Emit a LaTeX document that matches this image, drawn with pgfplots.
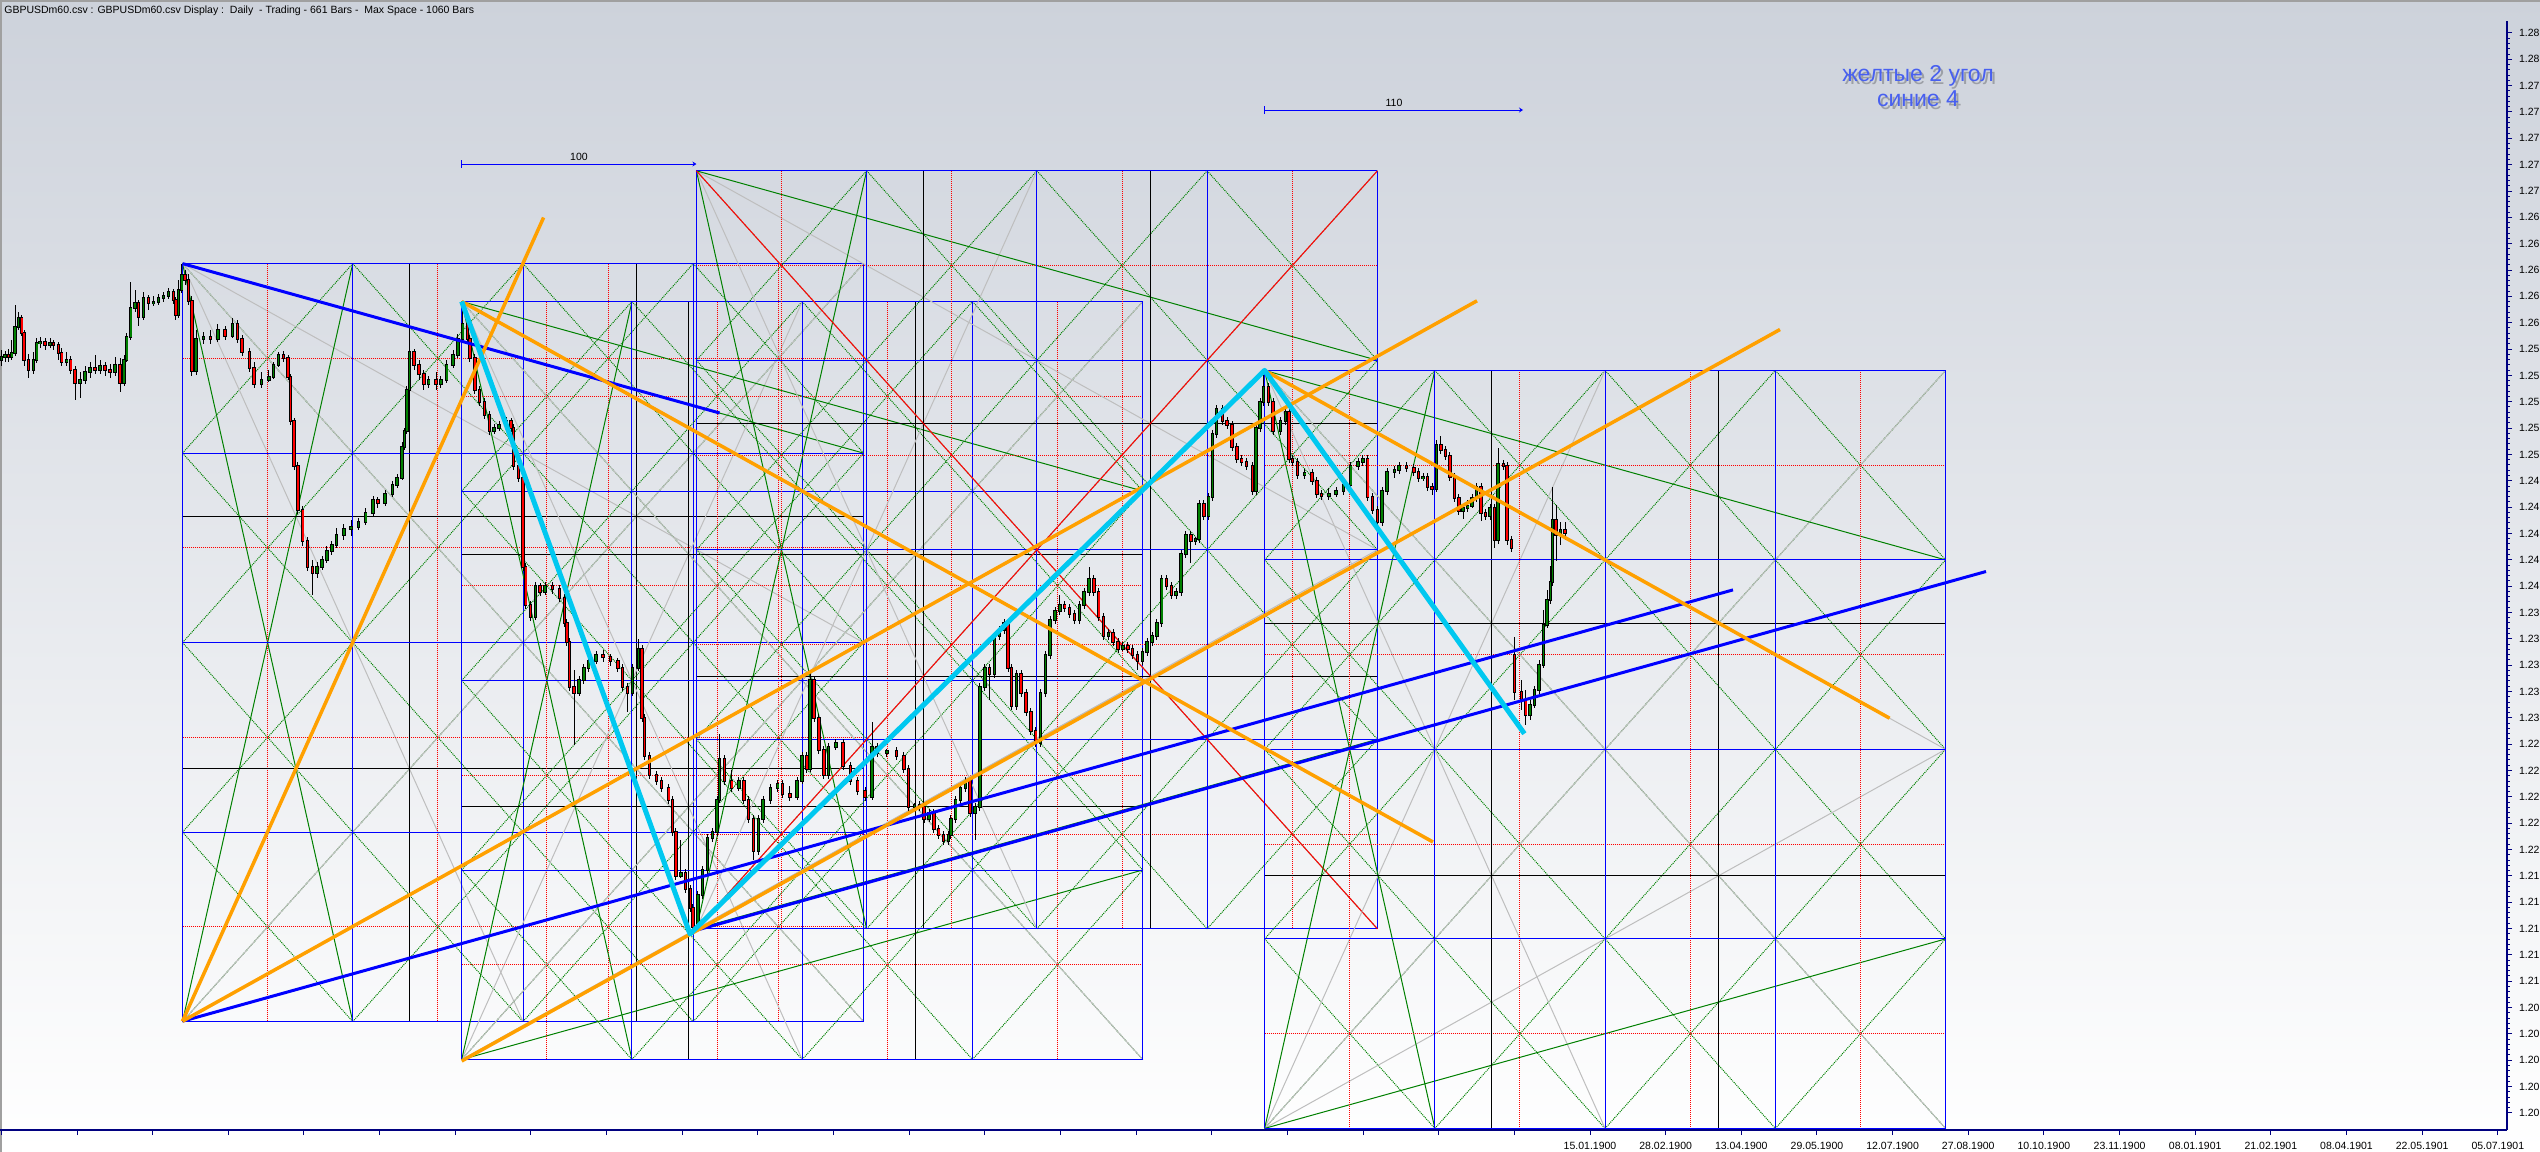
\documentclass[border=0pt]{standalone}
\usepackage{fontspec}
\setmainfont{Liberation Sans}
\usepackage{pgfplots}
\pgfplotsset{compat=1.18}
\usepackage{pgfplotstable}
\usetikzlibrary{arrows.meta}

\definecolor{gblue}{RGB}{0,0,255}
\definecolor{ggreen}{RGB}{0,128,0}
\definecolor{gred}{RGB}{255,0,0}
\definecolor{ggrey}{RGB}{190,190,190}
\definecolor{gorange}{RGB}{255,160,0}
\definecolor{gcyan}{RGB}{0,200,240}
\definecolor{axnavy}{RGB}{0,0,128}
\definecolor{bgtop}{RGB}{205,210,219}
\definecolor{txtblue}{RGB}{72,96,240}
\definecolor{frameg}{RGB}{160,160,160}

\newcommand\tickfont{\fontsize{5.25pt}{6pt}\selectfont}
\newcommand\rufont{\fontsize{11.5pt}{13pt}\selectfont}

% candles, pixel units (x = position, y counted downwards): open high low close
\pgfplotstableread{
x o h l c
1.7 360 350 366 357
5.0 357 351 362 355
8.3 355 349 362 357
11.7 357 340 360 353
15.0 353 305 356 327
18.3 327 312 330 318
21.7 318 315 336 333
24.0 333 330 366 360
28.3 360 354 378 370
33.3 370 352 374 360
36.7 360 338 363 343
40.0 343 337 348 342
45.0 342 338 350 345
50.0 345 338 348 343
53.3 343 340 350 345
58.3 345 342 360 353
61.7 353 348 366 362
66.7 362 352 366 360
70.7 360 356 374 370
75.0 370 366 400 383
80.0 383 372 398 380
85.0 380 366 384 372
90.0 372 362 378 368
95.0 368 355 374 370
100.0 370 360 374 366
105.0 366 362 376 370
110.0 370 364 378 372
115.0 372 357 376 365
120.0 365 358 392 383
124.0 383 355 386 360
126.7 360 333 362 337
130.7 337 282 340 308
135.0 308 290 312 303
138.3 303 300 326 317
143.3 317 292 320 298
148.3 298 295 310 303
153.3 303 296 306 302
158.3 302 294 305 298
163.3 298 292 302 296
168.3 296 288 299 292
173.3 292 289 304 300
175.7 300 297 320 315
178.3 315 280 318 290
181.7 290 264 293 275
185.0 275 270 285 280
188.4 280 274 305 301
191.8 301 296 376 371
196.0 371 330 375 339
203.3 339 332 344 337
210.6 337 330 344 339
217.9 339 324 342 330
225.1 330 326 340 336
232.4 336 318 338 324
237.3 324 320 343 339
242.1 339 335 356 352
249.4 352 348 372 368
254.2 368 362 388 384
261.5 384 372 388 380
268.8 380 370 382 377
273.6 377 362 379 365
278.5 365 352 367 355
283.3 355 351 362 358
288.1 358 355 380 377
290.6 377 374 425 421
294.0 421 418 470 466
297.8 466 462 514 510
302.7 510 506 546 541
307.5 541 537 571 567
312.4 567 560 595 573
317.2 573 562 578 567
322.1 567 556 570 560
326.9 560 546 563 551
331.8 551 541 555 545
336.6 545 528 548 535
343.9 535 524 540 529
351.2 529 520 536 527
358.4 527 518 530 522
365.7 522 508 525 513
373.0 513 496 516 500
377.8 500 497 508 503
385.1 503 490 506 494
392.4 494 481 497 485
397.2 485 474 488 478
402.1 478 442 480 447
404.5 447 428 450 431
406.9 431 386 434 390
409.3 390 348 393 352
414.2 352 349 370 365
419.0 365 360 380 374
423.9 374 370 390 384
428.7 384 376 388 380
436.0 380 372 390 384
440.8 384 376 388 380
446.7 380 360 383 365
453.0 365 350 368 355
457.8 355 334 358 339
462.7 339 302 342 324
467.5 324 318 344 339
469.9 339 335 362 358
474.8 358 354 394 390
479.6 390 386 406 402
484.5 402 398 419 415
489.3 415 411 435 431
494.2 431 424 434 428
499.0 428 421 431 425
506.3 425 417 428 421
511.1 421 418 432 428
513.5 428 424 470 466
518.4 466 462 482 478
523.2 478 474 571 567
525.7 567 563 609 605
530.5 605 601 621 617
535.4 617 582 620 586
540.2 586 583 596 592
545.1 592 582 595 586
552.3 586 582 594 589
559.6 589 585 602 598
564.4 598 594 627 623
566.9 623 619 646 642
569.3 642 638 691 687
574.1 687 670 745 693
579.0 693 676 696 680
583.8 680 664 684 668
588.7 668 657 672 661
596.0 661 651 664 655
603.2 655 650 662 657
610.5 657 654 666 661
617.8 661 658 672 668
622.6 668 664 691 687
627.5 687 683 712 693
632.3 693 664 696 668
638.6 668 639 671 649
642.0 649 645 722 718
644.4 718 714 760 756
649.3 756 752 779 775
656.5 775 771 785 781
661.4 781 777 792 788
668.7 788 784 804 800
672.5 800 796 836 832
675.9 832 828 880 876
680.8 876 840 878 873
685.6 873 869 893 889
690.5 889 885 912 908
692.9 908 904 933 927
697.8 927 891 931 895
702.6 895 866 899 870
707.4 870 834 874 838
712.3 838 828 842 832
717.1 832 796 836 800
719.6 800 734 803 759
724.4 759 755 785 781
731.7 781 770 792 788
738.9 788 777 791 781
743.8 781 777 804 800
748.6 800 796 823 819
753.5 819 815 860 851
758.3 851 815 855 819
763.2 819 796 823 800
770.5 800 784 804 788
777.7 788 780 792 784
782.6 784 780 798 794
789.8 794 786 801 797
797.1 797 777 800 781
802.0 781 752 784 756
806.8 756 752 773 769
810.2 769 671 772 680
814.1 680 676 722 718
818.9 718 714 754 750
823.8 750 746 779 775
828.6 775 743 779 747
835.9 747 739 750 743
843.2 743 739 770 766
850.4 766 762 785 781
857.7 781 777 795 791
865.0 791 787 801 797
872.2 797 722 800 747
877.1 747 743 757 753
886.8 753 749 757 751
896.5 751 747 760 756
903.8 756 752 773 769
908.6 769 765 811 807
914.5 807 803 811 805
919.3 805 801 811 807
924.2 807 803 823 819
929.0 819 809 822 813
933.9 813 809 833 829
938.7 829 825 839 835
943.6 835 831 845 841
948.4 841 831 845 835
950.8 835 815 839 819
955.7 819 796 823 800
960.5 800 784 804 788
965.4 788 777 792 781
970.2 781 777 817 813
975.1 813 803 840 807
979.9 807 683 811 687
984.8 687 664 691 668
989.6 668 664 700 674
994.5 674 632 678 636
999.3 636 626 640 630
1004.2 630 619 634 623
1008.0 623 619 672 668
1011.4 668 664 710 706
1016.3 706 670 710 674
1021.1 674 670 697 693
1026.0 693 689 716 712
1030.8 712 708 735 731
1035.7 731 727 747 743
1040.5 743 689 747 693
1045.4 693 651 697 655
1050.2 655 616 659 620
1055.1 620 607 624 611
1059.9 611 595 615 605
1064.7 605 601 612 608
1069.6 608 604 618 614
1074.4 614 610 624 620
1079.3 620 601 624 605
1084.1 605 588 609 592
1089.0 592 567 596 579
1093.8 579 575 596 592
1098.7 592 588 621 617
1103.5 617 613 640 636
1108.4 636 629 640 633
1113.2 633 629 646 642
1118.1 642 638 653 649
1122.9 649 642 651 646
1127.8 646 642 653 649
1132.6 649 645 659 655
1137.5 655 651 670 661
1142.3 661 648 665 652
1147.2 652 638 656 642
1152.0 642 632 646 636
1156.8 636 619 640 623
1161.7 623 575 627 579
1166.5 579 575 590 586
1171.4 586 582 599 595
1176.2 595 588 599 592
1181.1 592 550 596 554
1185.9 554 531 558 535
1190.8 535 531 563 541
1195.6 541 537 545 539
1199.0 539 500 543 504
1203.9 504 500 520 516
1208.7 516 493 520 497
1212.6 497 430 501 434
1216.5 434 405 438 409
1222.3 409 405 425 421
1227.1 421 417 429 425
1232.0 425 421 451 447
1236.8 447 443 463 459
1241.7 459 455 466 462
1246.5 462 458 470 466
1252.3 466 462 495 491
1256.2 491 424 495 428
1260.1 428 398 432 402
1263.5 402 370 406 387
1268.3 387 383 406 402
1273.2 402 398 435 431
1280.5 431 417 435 421
1285.3 421 408 425 412
1289.2 412 408 463 459
1292.6 459 455 466 462
1297.4 462 458 479 475
1304.7 475 469 479 473
1312.0 473 469 485 481
1316.8 481 477 498 494
1321.6 494 490 500 496
1328.9 496 488 500 494
1336.2 494 487 497 491
1343.5 491 481 495 485
1350.7 485 462 489 466
1358.0 466 458 470 462
1362.9 462 455 466 459
1367.7 459 455 501 497
1372.5 497 493 514 510
1377.4 510 506 526 522
1382.2 522 487 526 491
1387.1 491 468 495 472
1394.4 472 466 478 470
1399.2 470 462 474 466
1406.5 466 462 472 468
1413.8 468 464 476 472
1418.6 472 468 482 478
1423.0 478 473 481 477
1427.5 477 473 491 487
1432.0 487 483 495 489
1436.4 489 440 492 445
1440.9 445 436 454 450
1445.4 450 446 460 456
1449.8 456 452 481 477
1454.3 477 473 502 498
1458.8 498 494 515 511
1463.2 511 504 519 508
1467.7 508 500 512 506
1472.1 506 494 508 498
1476.6 498 483 502 487
1481.1 487 483 521 513
1485.5 513 509 520 516
1490.0 516 504 520 508
1494.5 508 504 548 540
1498.0 540 448 544 464
1503.4 464 460 470 466
1507.0 466 462 545 540
1511.4 540 536 552 548
1514.5 655 637 700 692
1521.3 692 680 710 700
1525.7 700 690 725 715
1530.2 715 700 720 705
1534.6 705 686 708 690
1539.1 690 660 694 665
1543.6 665 610 668 625
1547.1 625 590 628 600
1550.3 600 566 604 582
1552.5 582 487 586 520
1556.1 520 505 561 535
1560.5 535 522 545 530
1565.0 530 522 540 533
}\candles

\tikzset{
  gb/.style={draw=gblue, line width=0.5pt},
  gr/.style={draw=gred, line width=0.5pt, dash pattern=on 0.5pt off 0.5pt},
  gk/.style={draw=black, line width=0.5pt},
  gd/.style={draw=ggreen, line width=0.5pt, dash pattern=on 0.5pt off 0.5pt},
  gs/.style={draw=ggreen, line width=0.5pt},
  gg/.style={draw=ggrey, line width=0.5pt},
  gx/.style={draw=gred, line width=0.5pt},
}
\pgfplotsset{
  candle/.style={draw=none, mark=none, error bars/.cd, y dir=both, y explicit, error mark=none},
}

% box size in pixels
\newcommand{\bw}{681}
\newcommand{\bh}{758}

\newcommand{\seg}[5]{%
  \pgfmathsetmacro\sxa{#2}\pgfmathsetmacro\sya{#3}%
  \pgfmathsetmacro\sxb{#4}\pgfmathsetmacro\syb{#5}%
  \addplot[#1] coordinates {(\sxa,\sya) (\sxb,\syb)};}
\newcommand{\lat}[4]{\seg{gd}{\gX+#1*\bw/4}{\gY+#2*\bh/4}{\gX+#3*\bw/4}{\gY+#4*\bh/4}}

% one Gann box from its top-left corner
\newcommand{\gannbox}[2]{%
  \def\gX{#1}\def\gY{#2}%
  \lat{0}{3}{1}{4}\lat{0}{2}{2}{4}\lat{0}{1}{3}{4}\lat{0}{0}{4}{4}%
  \lat{1}{0}{4}{3}\lat{2}{0}{4}{2}\lat{3}{0}{4}{1}%
  \lat{0}{1}{1}{0}\lat{0}{2}{2}{0}\lat{0}{3}{3}{0}\lat{0}{4}{4}{0}%
  \lat{1}{4}{4}{1}\lat{2}{4}{4}{2}\lat{3}{4}{4}{3}%
  \seg{gg}{\gX}{\gY}{\gX+\bw}{\gY+\bh}%
  \seg{gg}{\gX}{\gY}{\gX+\bw}{\gY+\bh/2}%
  \seg{gg}{\gX}{\gY}{\gX+\bw/2}{\gY+\bh}%
  \seg{gg}{\gX}{\gY+\bh}{\gX+\bw}{\gY}%
  \seg{gg}{\gX}{\gY+\bh}{\gX+\bw}{\gY+\bh/2}%
  \seg{gg}{\gX}{\gY+\bh}{\gX+\bw/2}{\gY}%
  \seg{gs}{\gX}{\gY}{\gX+\bw/4}{\gY+\bh}%
  \seg{gs}{\gX+\bw/4}{\gY}{\gX}{\gY+\bh}%
  \seg{gs}{\gX}{\gY}{\gX+\bw}{\gY+\bh/4}%
  \seg{gs}{\gX}{\gY+\bh}{\gX+\bw}{\gY+3*\bh/4}%
  \pgfplotsforeachungrouped \gi in {1,3,5,7}{%
    \seg{gr}{\gX+\gi*\bw/8}{\gY}{\gX+\gi*\bw/8}{\gY+\bh}%
    \seg{gr}{\gX}{\gY+\gi*\bh/8}{\gX+\bw}{\gY+\gi*\bh/8}}%
  \pgfplotsforeachungrouped \gi in {1,2}{%
    \seg{gk}{\gX+\gi*\bw/3}{\gY}{\gX+\gi*\bw/3}{\gY+\bh}%
    \seg{gk}{\gX}{\gY+\gi*\bh/3}{\gX+\bw}{\gY+\gi*\bh/3}}%
  \pgfplotsforeachungrouped \gi in {0,1,2,3,4}{%
    \seg{gb}{\gX+\gi*\bw/4}{\gY}{\gX+\gi*\bw/4}{\gY+\bh}%
    \seg{gb}{\gX}{\gY+\gi*\bh/4}{\gX+\bw}{\gY+\gi*\bh/4}}%
}

\begin{document}
\begin{tikzpicture}
\useasboundingbox (0,-11pt) rectangle (1270pt,565pt);
\shade[top color=bgtop, bottom color=white] (0,-11pt) rectangle (1270pt,565pt);
\draw[frameg, line width=1pt] (0.5pt,-11pt) -- (0.5pt,564.5pt) -- (1270pt,564.5pt);
\node[anchor=west, inner sep=0pt, font=\tickfont] at (2pt,559.5pt)
  {GBPUSDm60.csv : GBPUSDm60.csv Display :\ \ Daily\ \ - Trading - 661 Bars -\ \ Max Space - 1060 Bars};

\begin{axis}[
  scale only axis, width=1253.5pt, height=554.5pt,
  xmin=0, xmax=2507, ymin=21, ymax=1130, y dir=reverse,
  axis x line*=bottom, axis y line*=right,
  axis line style={draw=axnavy, line width=0.8pt},
  tick align=outside,
  major tick length=2.5pt, minor tick length=1.3pt,
  every tick/.append style={draw=axnavy, line width=0.5pt},
  xtick={1.35,77,...,2499},
  xticklabels={,,,,,,,,,,,,,,,,,,,,,15.01.1900,28.02.1900,13.04.1900,29.05.1900,12.07.1900,27.08.1900,10.10.1900,23.11.1900,08.01.1901,21.02.1901,08.04.1901,22.05.1901,05.07.1901},
  minor x tick num=3,
  ytick={32.96,59.30,...,1113.5},
  yticklabels={1.28,1.28,1.27,1.27,1.27,1.27,1.27,1.26,1.26,1.26,1.26,1.26,1.25,1.25,1.25,1.25,1.25,1.24,1.24,1.24,1.24,1.24,1.23,1.23,1.23,1.23,1.23,1.22,1.22,1.22,1.22,1.22,1.21,1.21,1.21,1.21,1.21,1.20,1.20,1.20,1.20,1.20},
  minor y tick num=4,
  xticklabel style={font=\tickfont, text=black},
  yticklabel style={font=\tickfont, text=black},
  /pgf/number format/assume math mode=true,
]

% Gann boxes
\gannbox{182.5}{263.6}
\gannbox{461.7}{301.5}
\gannbox{696.4}{170.8}
\seg{gx}{696.4}{170.8}{696.4+\bw}{170.8+\bh}
\seg{gx}{696.4}{170.8+\bh}{696.4+\bw}{170.8}
\gannbox{1264.6}{370.4}

% candles: wicks, outlines, bodies
\addplot[candle, error bar style={draw=black, line width=0.5pt}]
  table[x=x, y expr={(\thisrow{h}+\thisrow{l})/2}, y error expr={(\thisrow{l}-\thisrow{h})/2}] {\candles};
\addplot[candle, error bar style={draw=black, line width=1.75pt}]
  table[x=x, y expr={(\thisrow{o}+\thisrow{c})/2}, y error expr={abs(\thisrow{o}-\thisrow{c})/2+1}] {\candles};
\addplot[restrict expr to domain={\thisrow{o}-\thisrow{c}}{0:2000},
  candle, error bar style={draw=ggreen, line width=0.8pt}]
  table[x=x, y expr={(\thisrow{o}+\thisrow{c})/2}, y error expr={abs(\thisrow{o}-\thisrow{c})/2}] {\candles};
\addplot[restrict expr to domain={\thisrow{o}-\thisrow{c}}{-2000:0},
  candle, error bar style={draw=gred, line width=0.8pt}]
  table[x=x, y expr={(\thisrow{o}+\thisrow{c})/2}, y error expr={abs(\thisrow{o}-\thisrow{c})/2}] {\candles};

% blue angle lines (4)
\addplot[gblue, line width=1.5pt] coordinates {(182.5,263.6) (719.6,413)};
\addplot[gblue, line width=1.5pt] coordinates {(182.5,1021.2) (1733,589.9)};
\addplot[gblue, line width=1.5pt] coordinates {(690,932) (1986,571.5)};
% orange angle lines (2)
\addplot[gorange, line width=1.75pt] coordinates {(182.5,1021.2) (543.6,217.5)};
\addplot[gorange, line width=1.75pt] coordinates {(182.5,1021.2) (1477,300.8)};
\addplot[gorange, line width=1.75pt] coordinates {(461.7,301.5) (1433,842)};
\addplot[gorange, line width=1.75pt] coordinates {(461.7,1061) (1780,329.5)};
\addplot[gorange, line width=1.75pt] coordinates {(1264.6,370.4) (1889.6,718.2)};
% swing zigzag
\addplot[gcyan, line width=2.5pt, line join=round] coordinates {(461.7,301.5) (690,934) (1264.6,370.4) (1524.4,733.7)};

% bar-count rulers
\addplot[gblue, line width=0.5pt, -{Stealth[length=2pt,width=2.5pt]}] coordinates {(461.7,164) (696.4,164)};
\addplot[gblue, line width=0.5pt] coordinates {(461.7,160) (461.7,168)};
\node[font=\tickfont] at (axis cs:579,156.5) {100};
\addplot[gblue, line width=0.5pt, -{Stealth[length=2pt,width=2.5pt]}] coordinates {(1264.6,110) (1523,110)};
\addplot[gblue, line width=0.5pt] coordinates {(1264.6,106) (1264.6,114)};
\node[font=\tickfont] at (axis cs:1394,102.5) {110};

% note
\node[font=\rufont, text=black, text opacity=0.25, anchor=base] at (axis cs:1920.5,84.7) {желтые 2 угол};
\node[font=\rufont, text=txtblue, anchor=base] at (axis cs:1918,81.7) {желтые 2 угол};
\node[font=\rufont, text=black, text opacity=0.25, anchor=base] at (axis cs:1920.5,109.7) {синие 4};
\node[font=\rufont, text=txtblue, anchor=base] at (axis cs:1918,106.7) {синие 4};
\end{axis}
\end{tikzpicture}
\end{document}
